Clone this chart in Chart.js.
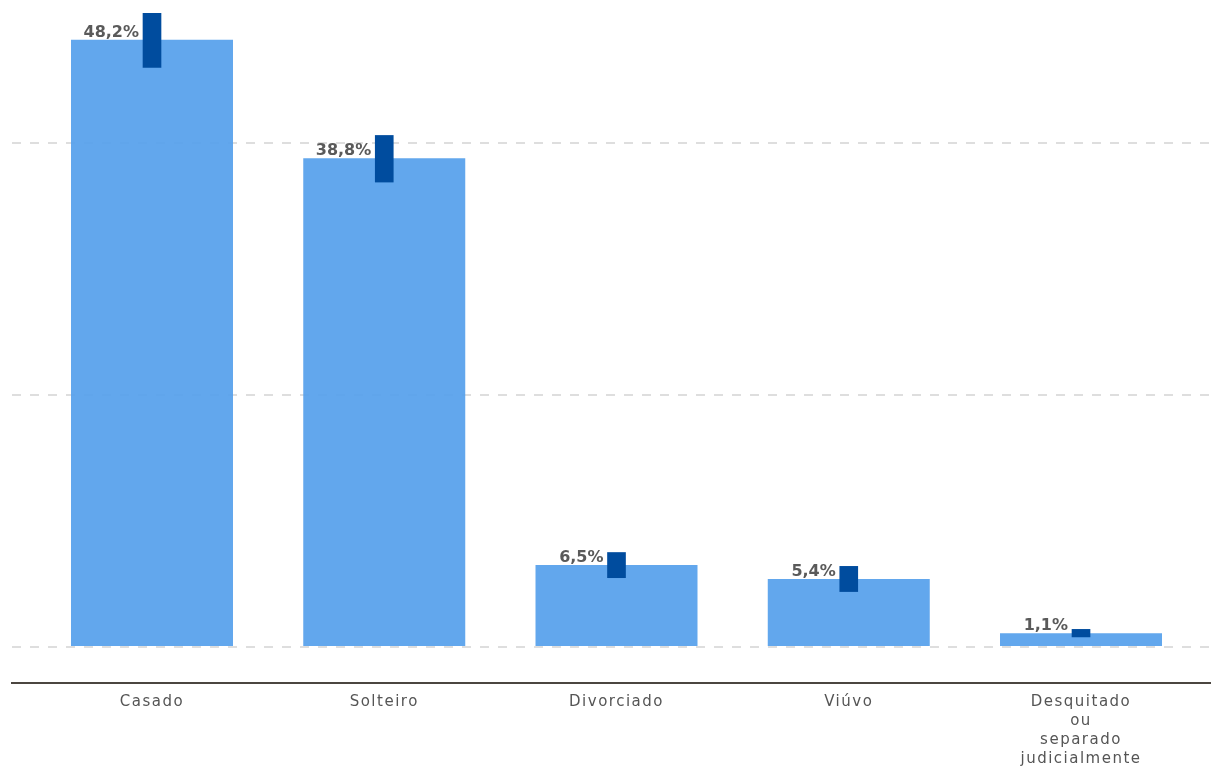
<!DOCTYPE html>
<html lang="pt-BR">
<head>
<meta charset="utf-8">
<title>Estado civil</title>
<script src="https://cdn.jsdelivr.net/npm/chart.js@4/dist/chart.umd.min.js"></script>
<style>
  html, body { margin: 0; padding: 0; background: #fff; }
  #wrap { position: relative; width: 1211px; height: 767px; }
</style>
</head>
<body>
<div id="wrap"><canvas id="chartEstadoCivil"></canvas></div>
<script>
// Data
const categories = [
  ['Casado'],
  ['Solteiro'],
  ['Divorciado'],
  ['Viúvo'],
  ['Desquitado', 'ou', 'separado', 'judicialmente'],
];
const positions = [0, 1, 2, 3, 4];
const percentValues = [48.2, 38.8, 6.5, 5.4, 1.1];
const errorLow = [46.0, 36.9, 5.5, 4.4, 0.8];
const errorHigh = [50.3, 40.6, 7.5, 6.4, 1.4];
const gridTicks = [0, 20, 40];

const Colors = {
  bar: 'rgba(85, 160, 236, 0.92)',
  error: '#004c9e',
  grid: '#dedede',
  axis: '#4b4640',
  tick: '#555555',
  label: '#5a5a5a',
};

const fmtPct = (v) => v.toFixed(1).replace('.', ',') + '%';

/* ── Letter spacing for tick text ─────────────────────────── */
const spacingPlugin = {
  id: 'spacing',
  beforeDraw(chart) {
    chart.ctx.letterSpacing = '1.5px';
  },
};

/* ── Value labels left of the error bars ──────────────────── */
const valueLabels = {
  id: 'valueLabels',
  afterDatasetsDraw(chart) {
    const ctx = chart.ctx;
    const meta = chart.getDatasetMeta(1);
    ctx.save();
    ctx.letterSpacing = '0px';
    ctx.font = "bold 16px 'DejaVu Sans', sans-serif";
    ctx.fillStyle = Colors.label;
    ctx.textAlign = 'right';
    ctx.textBaseline = 'alphabetic';
    meta.data.forEach((bar, i) => {
      ctx.fillText(fmtPct(percentValues[i]), bar.x - 13, bar.y - 3);
    });
    ctx.restore();
  },
};

new Chart(document.getElementById('chartEstadoCivil'), {
  type: 'bar',
  data: {
    datasets: [
      {
        label: 'Intervalo',
        data: positions.map((x, i) => ({ x, y: [errorLow[i], errorHigh[i]] })),
        backgroundColor: Colors.error,
        barThickness: 18,
        grouped: false,
        order: 1,
      },
      {
        label: 'Percentual',
        data: positions.map((x, i) => ({ x, y: percentValues[i] })),
        backgroundColor: Colors.bar,
        categoryPercentage: 1,
        barPercentage: 0.6975,
        grouped: false,
        order: 2,
      },
    ],
  },
  options: {
    responsive: true,
    maintainAspectRatio: false,
    animation: false,
    layout: { padding: { left: 12, right: 0, top: 0, bottom: 0 } },
    plugins: {
      legend: { display: false },
      tooltip: { enabled: false },
    },
    scales: {
      x: {
        type: 'linear',
        offset: false,
        min: -0.6028,
        max: 4.5597,
        grid: { display: false, drawTicks: false, offset: false },
        border: { display: true, color: Colors.axis, width: 2 },
        ticks: {
          stepSize: 1,
          includeBounds: false,
          autoSkip: false,
          maxRotation: 0,
          padding: 10,
          color: Colors.tick,
          font: { family: "'DejaVu Sans', sans-serif", size: 15, lineHeight: 1.25 },
          callback: (v) => categories[v],
        },
        afterFit: (scale) => { scale.height = 84; },
      },
      y: {
        min: -2.857,
        max: 51.35,
        afterBuildTicks: (scale) => {
          scale.ticks = gridTicks.map((value) => ({ value }));
        },
        ticks: { display: false },
        grid: { color: Colors.grid, lineWidth: 2, drawTicks: false },
        border: { display: false, dash: [9, 9] },
        afterFit: (scale) => { scale.width = 0; },
      },
    },
  },
  plugins: [spacingPlugin, valueLabels],
});
</script>
</body>
</html>
